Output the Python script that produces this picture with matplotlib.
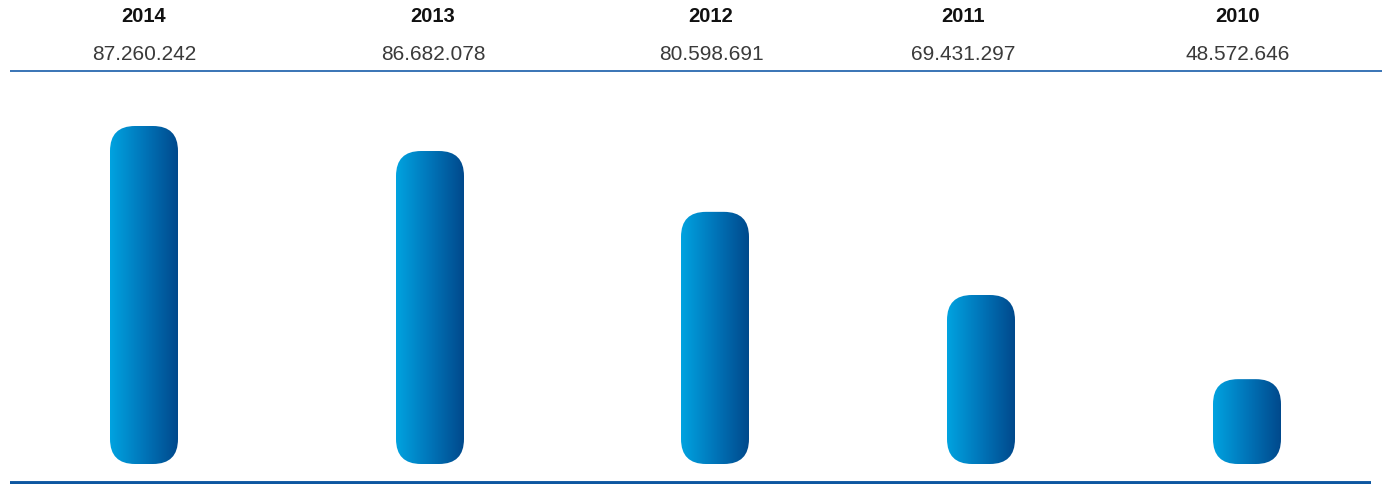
import numpy as np
import matplotlib.pyplot as plt
from matplotlib.patches import FancyBboxPatch
from matplotlib.colors import LinearSegmentedColormap

# data
years = ["2014", "2013", "2012", "2011", "2010"]
value_labels = ["87.260.242", "86.682.078", "80.598.691", "69.431.297", "48.572.646"]
# bar heights relative to the tallest bar (the bars are not drawn to a zero-based scale)
bar_index = [100, 92.6, 74.6, 50, 25.1]

# layout (pixels of a 1390 x 484 canvas)
W, H = 1390, 484
label_x = [144, 433, 711, 963, 1238]
bar_x = [144, 430, 715, 981, 1247]
bar_w = 68
bar_bottom_px = 464
bar_top_px = 126
radius = 25

plt.rcParams['font.family'] = ['Liberation Sans', 'DejaVu Sans']

fig = plt.figure(figsize=(W / 100, H / 100), dpi=100)

# overlay axes in pixel coords for text and rules
ax0 = fig.add_axes([0, 0, 1, 1])
ax0.set_xlim(0, W)
ax0.set_ylim(H, 0)
ax0.axis("off")

for x, yr, val in zip(label_x, years, value_labels):
    ax0.text(x, 17, yr, ha="center", va="center", fontsize=14.5,
             fontweight="bold", color="#111111")
    ax0.text(x, 54.5, val, ha="center", va="center", fontsize=15,
             color="#3a3a3a")

ax0.plot([10, 1382], [71, 71], color="#2a69b0", lw=1.3, solid_capstyle="butt")
ax0.plot([10, 1371], [482.5, 482.5], color="#0d57a1", lw=2.8, solid_capstyle="butt")

# bar axes: bottom at bar baseline, top at the tallest bar
bh = (bar_bottom_px - bar_top_px) / H
ax = fig.add_axes([0, (H - bar_bottom_px) / H, 1, bh])
ax.set_xlim(0, W)
ax.set_ylim(0, 100)
ax.axis("off")

px_per_unit = (bar_bottom_px - bar_top_px) / 100
cmap = LinearSegmentedColormap.from_list("barblue", ["#00a3e0", "#0075b9", "#00498c"])
grad = np.linspace(0, 1, 256).reshape(1, -1)

for x, h in zip(bar_x, bar_index):
    left = x - bar_w / 2
    patch = FancyBboxPatch((left, 0), bar_w, h,
                           boxstyle=f"round,pad=0,rounding_size={radius}",
                           mutation_aspect=1 / px_per_unit,
                           facecolor="none", edgecolor="none")
    ax.add_patch(patch)
    im = ax.imshow(grad, cmap=cmap, aspect="auto",
                   extent=(left, left + bar_w, 0, h), interpolation="bilinear")
    im.set_clip_path(patch)

ax.set_xlim(0, W)
ax.set_ylim(0, 100)

fig.savefig("out.png", dpi=100)
